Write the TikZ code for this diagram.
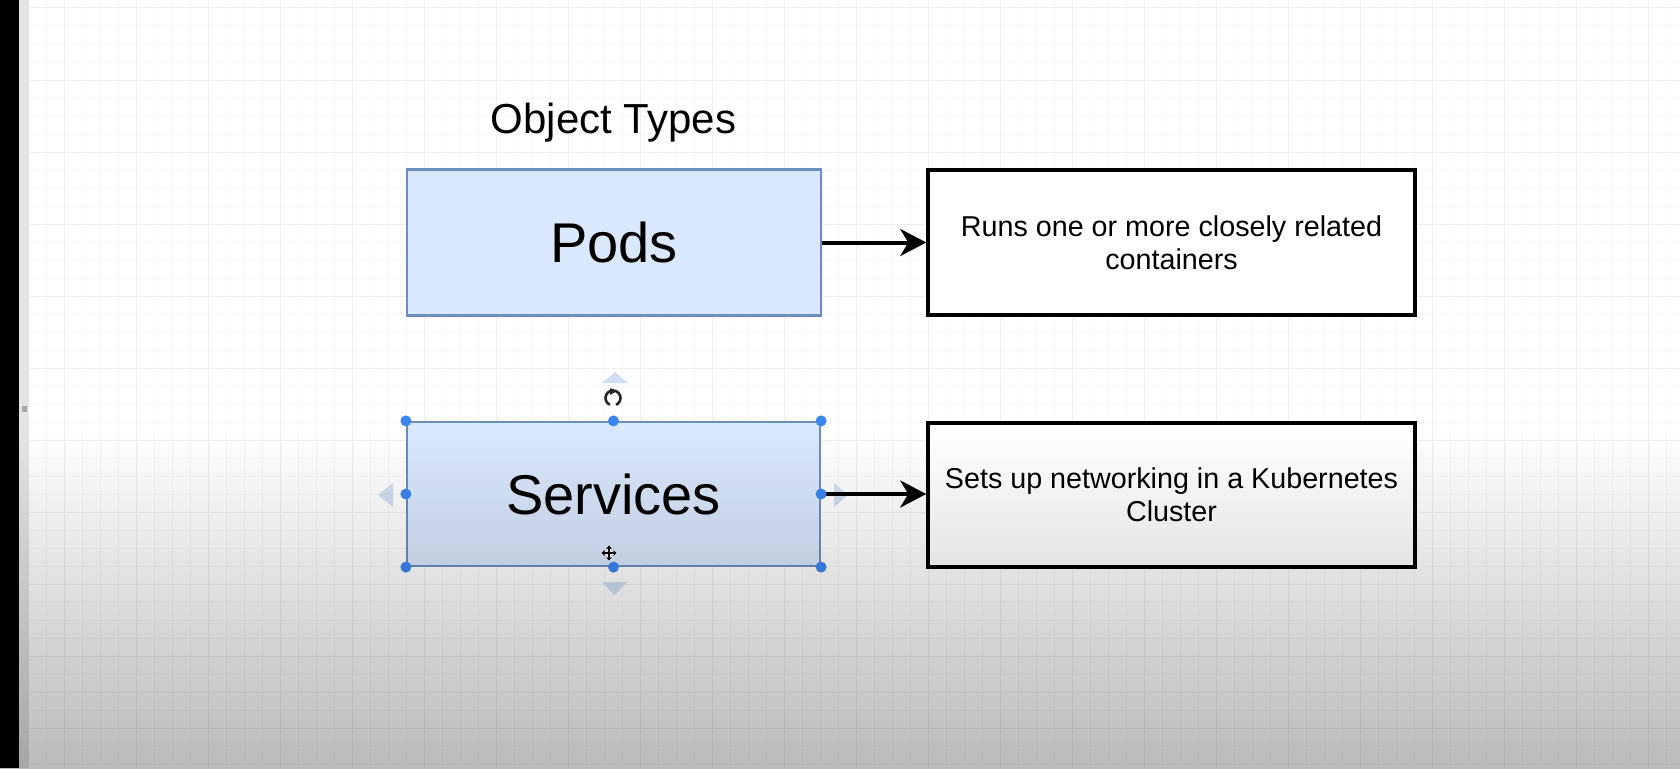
\documentclass[tikz,border=0pt]{standalone}
\usepackage{fontspec}
\setmainfont{Liberation Sans}
\usetikzlibrary{arrows.meta}
\definecolor{podfill}{HTML}{DAE8FC}
\definecolor{podline}{HTML}{6C8EBF}
\definecolor{gridminor}{HTML}{F7F7F7}
\definecolor{gridmajor}{HTML}{EFEFEF}
\definecolor{handle}{HTML}{3B86EE}
\definecolor{hover}{HTML}{C6D8F0}
\definecolor{strip}{HTML}{E4E4E4}
\tikzset{
  typebox/.style={draw=podline, fill=podfill, line width=2.6pt, inner sep=0pt,
    font=\fontsize{56}{60}\selectfont},
  descbox/.style={draw=black, fill=white, line width=3.5pt, inner sep=0pt,
    align=center, font=\fontsize{28.7}{33}\selectfont},
  link/.style={line width=4pt, -{Stealth[length=26pt,width=27pt,inset=8pt]}},
  handledot/.style={fill=handle},
  hoverarrow/.style={fill=hover, fill opacity=0.8},
}
\begin{document}
\begin{tikzpicture}[x=1pt,y=-1pt]
\useasboundingbox (0,0) rectangle (1680,768);
\fill[white] (0,0) rectangle (1680,768);
% grid
\foreach \x in {28,46,...,1678} \draw[gridminor, line width=1pt] (\x,0) -- (\x,768);
\foreach \y in {8,26,...,766} \draw[gridminor, line width=1pt] (29,\y) -- (1680,\y);
\foreach \x in {64,136,...,1648} \draw[gridmajor, line width=1pt] (\x,0) -- (\x,768);
\foreach \y in {8,80,...,728} \draw[gridmajor, line width=1pt] (29,\y) -- (1680,\y);
% left strips
\fill[black] (0,0) rectangle (19,768);
\fill[strip] (19,0) rectangle (29,768);
\fill[gray!70] (21.5,406) rectangle (26.5,412);

% title
\node[anchor=base, font=\fontsize{42}{46}\selectfont, inner sep=0pt] (title) at (613.5,133) {Object Types};

% boxes
\node[typebox, minimum width=414pt, minimum height=146pt] (pods) at (614,242.5) {Pods};
\node[typebox, line width=2.2pt, minimum width=413pt, minimum height=144pt] (svc) at (613.5,494) {Services};
\node[descbox, minimum width=487pt, minimum height=145pt] (d1) at (1171.5,242.5)
  {Runs one or more closely related\\containers};
\node[descbox, minimum width=487pt, minimum height=144pt] (d2) at (1171.5,495)
  {Sets up networking in a Kubernetes\\Cluster};

% hover arrows around selected box
\fill[hoverarrow] (602,383) -- (628,383) -- (615,372) -- cycle;
\fill[hoverarrow] (602,582) -- (627,582) -- (614.5,595) -- cycle;
\fill[hoverarrow] (393,483) -- (393,507) -- (378,495) -- cycle;
\fill[hoverarrow] (834,483) -- (834,507) -- (848,495) -- cycle;

% connectors
\draw[link] (pods.east) -- (d1.west);
\draw[link] (svc.east) -- (svc.east -| d2.west);

% selection handles
\foreach \a in {north west, north, north east, west, east, south west, south, south east}
  \fill[handledot] (svc.\a) circle (5.5pt);

% rotate icon
\coordinate (rot) at (613,398);
\draw[line width=2.6pt, black!85] (rot) ++(115:7.5) arc (115:425:7.5);
\fill[black!85] (610,388) -- (617,391) -- (610,395) -- cycle;

% move cursor
\coordinate (mv) at (609,553);
\draw[white, line width=3.5pt] (602,553) -- (616,553) (609,546) -- (609,560);
\draw[black, line width=1.6pt, {Triangle[length=3pt,width=5.5pt]}-{Triangle[length=3pt,width=5.5pt]}] (601.5,553) -- (616.5,553);
\draw[black, line width=1.6pt, {Triangle[length=3pt,width=5.5pt]}-{Triangle[length=3pt,width=5.5pt]}] (609,545.5) -- (609,560.5);

% screen darkening toward bottom
\foreach \i [evaluate=\i as \op using {0.27*(\i+0.5)/34}, evaluate=\i as \ya using {430+10*\i}, evaluate=\i as \yb using {440+10*\i}] in {0,...,33}
  \fill[black, fill opacity=\op] (0,\ya) rectangle (1680,\yb);
\end{tikzpicture}
\end{document}
